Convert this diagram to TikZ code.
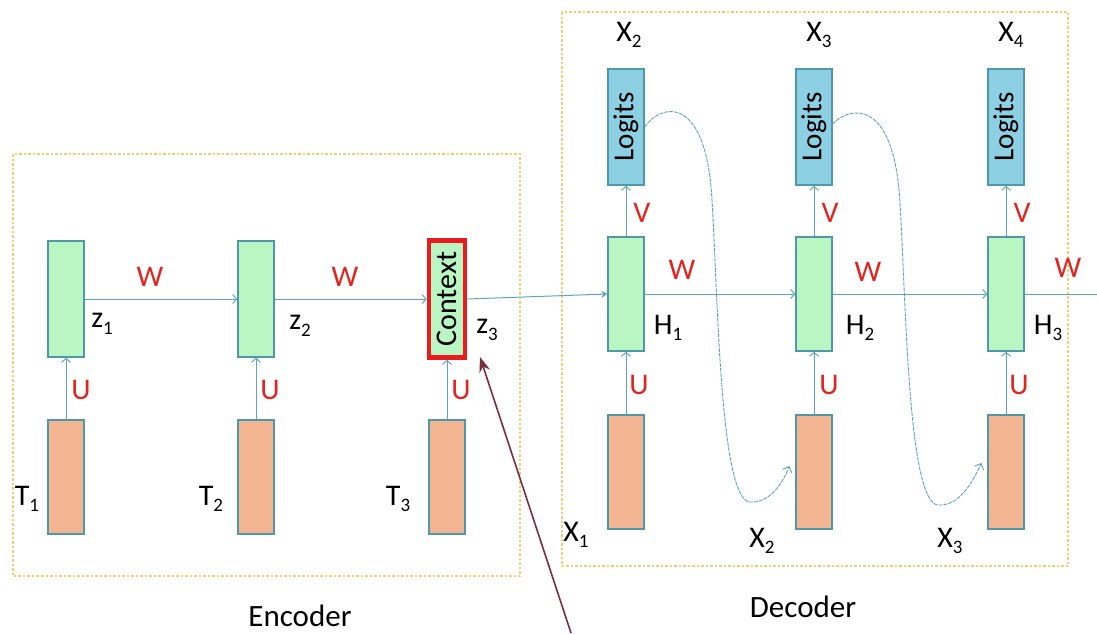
\documentclass[tikz,border=0pt]{standalone}
\usepackage{fontspec}
\setmainfont{Carlito}
\usetikzlibrary{arrows.meta}

\definecolor{hidfill}{HTML}{BAF5C4}
\definecolor{infill}{HTML}{F2B491}
\definecolor{outfill}{HTML}{8DCFE3}
\definecolor{boxedge}{HTML}{4F98A8}
\definecolor{wire}{HTML}{5EA6BC}
\definecolor{wlabel}{HTML}{E2231E}
\definecolor{ctxred}{HTML}{E81C1C}
\definecolor{frameline}{HTML}{F0CF73}
\definecolor{pointer}{HTML}{7A2E3E}

% lowered index digit for the variable names
\newcommand{\lowix}[1]{\raisebox{-0.45ex}{\fontsize{19}{19}\selectfont #1}}

\begin{document}
\begin{tikzpicture}[x=1pt,y=-1pt,
  hidden/.style={draw=boxedge, fill=hidfill, line width=1.3pt, inner sep=0pt,
                 minimum width=36pt, minimum height=116pt},
  inputbox/.style={draw=boxedge, fill=infill, line width=1.3pt, inner sep=0pt,
                 minimum width=36pt, minimum height=114pt},
  logitbox/.style={draw=boxedge, fill=outfill, line width=1.3pt, inner sep=0pt,
                 rotate=90, minimum width=116pt, minimum height=36pt,
                 font=\fontsize{29}{29}\selectfont},
  ctxbox/.style={draw=ctxred, fill=hidfill, line width=4.5pt, inner sep=0pt,
                 rotate=90, minimum width=117pt, minimum height=36pt,
                 font=\fontsize{30}{30}\selectfont},
  link/.style={draw=wire, line width=1pt, -{Straight Barb[length=4pt,width=9pt]}},
  feed/.style={draw=wire, line width=0.9pt, dash pattern=on 4pt off 1pt,
               -{Straight Barb[length=5pt,width=10pt]}},
  wt/.style={text=wlabel, font=\fontsize{30}{30}\selectfont, inner sep=0pt},
  lab/.style={text=black, font=\fontsize{30}{30}\selectfont, inner sep=0pt},
  frame/.style={draw=frameline, line width=1.2pt, dash pattern=on 2.5pt off 2pt},
  title/.style={text=black, font=\fontsize{31}{31}\selectfont, inner sep=0pt}
]
\useasboundingbox[fill=white] (0,0) rectangle (1097,633);

% encoder and decoder frames
\draw[frame] (13,154) rectangle (520,576);
\draw[frame] (562,12) rectangle (1068,566);
\node[title] (enc) at (300,616) {Encoder};
\node[title] (dec) at (803,607) {Decoder};

% encoder column
\node[hidden] (z1) at (66,299) {};
\node[hidden] (z2) at (256,299) {};
\node[ctxbox] (ctx) at (447,299) {Context};
\node[inputbox] (t1) at (66,477) {};
\node[inputbox] (t2) at (256,477) {};
\node[inputbox] (t3) at (447,477) {};

% decoder column
\node[logitbox] (l1) at (626,127) {Logits};
\node[logitbox] (l2) at (814,127) {Logits};
\node[logitbox] (l3) at (1006,127) {Logits};
\node[hidden, minimum height=114pt] (h1) at (626,294) {};
\node[hidden, minimum height=114pt] (h2) at (814,294) {};
\node[hidden, minimum height=114pt] (h3) at (1006,294) {};
\node[inputbox] (x1) at (626,472) {};
\node[inputbox] (x2) at (814,472) {};
\node[inputbox] (x3) at (1006,472) {};
\coordinate (hout) at (1097,294);

% recurrent connections
\draw[link] (z1.east) -- (z2.west);
\draw[link] (z2.east) -- (ctx.north);
\draw[draw=wire, line width=1pt, -{Stealth[length=6pt,width=7pt]}] (ctx.south) -- (h1.west);
\draw[link] (h1.east) -- (h2.west);
\draw[link] (h2.east) -- (h3.west);
\draw[draw=wire, line width=1pt] (h3.east) -- (hout);

% input connections
\draw[link] (t1.north) -- (z1.south);
\draw[link] (t2.north) -- (z2.south);
\draw[link] (t3.north) -- (ctx.west);
\draw[link] (x1.north) -- (h1.south);
\draw[link] (x2.north) -- (h2.south);
\draw[link] (x3.north) -- (h3.south);

% output connections
\draw[link] (h1.north) -- (l1.west);
\draw[link] (h2.north) -- (l2.west);
\draw[link] (h3.north) -- (l3.west);

% predicted token fed back as next input
\draw[feed] (l1.south) .. controls (660,104) and (706,92) .. (712,200)
   .. controls (718,300) and (720,500) .. (750,502)
   .. controls (766,503) and (780,490) .. ([xshift=-6pt,yshift=6pt]x2.west);
\draw[feed] ([yshift=3pt]l2.south) .. controls (848,107) and (894,95) .. (900,203)
   .. controls (906,303) and (908,503) .. (938,505)
   .. controls (954,506) and (968,493) .. ([xshift=-6pt,yshift=9pt]x3.west);

% weight labels
\node[wt] (w1) at (150,277) {W};
\node[wt] (w2) at (345,277) {W};
\node[wt] (w3) at (682,270) {W};
\node[wt] (w4) at (868,272) {W};
\node[wt] (w5) at (1068,268) {W};
\node[wt] (u1) at (81,390) {U};
\node[wt] (u2) at (270,390) {U};
\node[wt] (u3) at (461,390) {U};
\node[wt] (u4) at (639,385) {U};
\node[wt] (u5) at (829,385) {U};
\node[wt] (u6) at (1019,385) {U};
\node[wt] (v1) at (642,213) {V};
\node[wt] (v2) at (830,213) {V};
\node[wt] (v3) at (1022,213) {V};

% variable names
\node[lab] (nz1) at (102,324) {z\lowix{1}};
\node[lab] (nz2) at (300,326) {z\lowix{2}};
\node[lab] (nz3) at (487,330) {z\lowix{3}};
\node[lab] (nt1) at (27,499) {T\lowix{1}};
\node[lab] (nt2) at (211,499) {T\lowix{2}};
\node[lab] (nt3) at (398,499) {T\lowix{3}};
\node[lab] (nh1) at (668,328) {H\lowix{1}};
\node[lab] (nh2) at (860,328) {H\lowix{2}};
\node[lab] (nh3) at (1048,328) {H\lowix{3}};
\node[lab] (ny2) at (629,35) {X\lowix{2}};
\node[lab] (ny3) at (819,35) {X\lowix{3}};
\node[lab] (ny4) at (1011,35) {X\lowix{4}};
\node[lab] (nx1) at (576,535) {X\lowix{1}};
\node[lab] (nx2) at (762,541) {X\lowix{2}};
\node[lab] (nx3) at (950,541) {X\lowix{3}};

% pointer to the context vector
\coordinate (ptrfoot) at (571,633);
\coordinate (ptrtip) at (480,357);
\draw[draw=pointer, line width=1.6pt, -{Stealth[length=15pt,width=11pt]}] (ptrfoot) -- (ptrtip);
\end{tikzpicture}
\end{document}
